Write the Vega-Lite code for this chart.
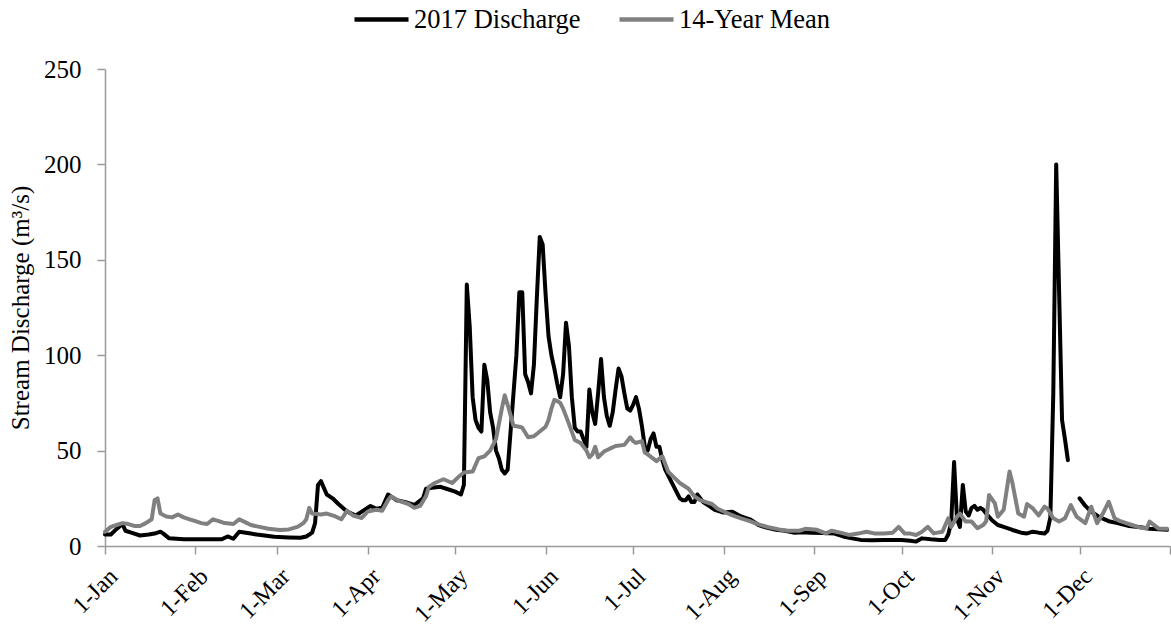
{
  "$schema": "https://vega.github.io/schema/vega-lite/v6.json",
  "width": 1065,
  "height": 477,
  "autosize": {"type": "none"},
  "padding": {"left": 105, "top": 69, "right": 1, "bottom": 81},
  "background": "white",
  "config": {"view": {"stroke": null}, "font": "Liberation Serif"},
  "datasets": {
    "discharge": [
      {"date": "2017-01-01", "series": "2017 Discharge", "value": 6},
      {"date": "2017-01-03", "series": "2017 Discharge", "value": 6},
      {"date": "2017-01-05", "series": "2017 Discharge", "value": 9},
      {"date": "2017-01-07", "series": "2017 Discharge", "value": 11.5},
      {"date": "2017-01-08", "series": "2017 Discharge", "value": 8},
      {"date": "2017-01-10", "series": "2017 Discharge", "value": 7},
      {"date": "2017-01-13", "series": "2017 Discharge", "value": 5.5},
      {"date": "2017-01-16", "series": "2017 Discharge", "value": 6},
      {"date": "2017-01-18", "series": "2017 Discharge", "value": 6.5},
      {"date": "2017-01-20", "series": "2017 Discharge", "value": 7.5},
      {"date": "2017-01-21", "series": "2017 Discharge", "value": 6.5},
      {"date": "2017-01-23", "series": "2017 Discharge", "value": 4},
      {"date": "2017-01-28", "series": "2017 Discharge", "value": 3.5},
      {"date": "2017-02-05", "series": "2017 Discharge", "value": 3.5},
      {"date": "2017-02-10", "series": "2017 Discharge", "value": 3.5},
      {"date": "2017-02-12", "series": "2017 Discharge", "value": 5},
      {"date": "2017-02-14", "series": "2017 Discharge", "value": 3.8},
      {"date": "2017-02-16", "series": "2017 Discharge", "value": 7.5},
      {"date": "2017-02-20", "series": "2017 Discharge", "value": 6.5},
      {"date": "2017-02-22", "series": "2017 Discharge", "value": 6},
      {"date": "2017-02-28", "series": "2017 Discharge", "value": 4.8},
      {"date": "2017-03-05", "series": "2017 Discharge", "value": 4.5},
      {"date": "2017-03-09", "series": "2017 Discharge", "value": 4.3},
      {"date": "2017-03-11", "series": "2017 Discharge", "value": 5},
      {"date": "2017-03-13", "series": "2017 Discharge", "value": 7},
      {"date": "2017-03-14", "series": "2017 Discharge", "value": 12},
      {"date": "2017-03-15", "series": "2017 Discharge", "value": 32},
      {"date": "2017-03-16", "series": "2017 Discharge", "value": 34},
      {"date": "2017-03-18", "series": "2017 Discharge", "value": 27},
      {"date": "2017-03-20", "series": "2017 Discharge", "value": 25},
      {"date": "2017-03-22", "series": "2017 Discharge", "value": 22},
      {"date": "2017-03-25", "series": "2017 Discharge", "value": 18},
      {"date": "2017-03-28", "series": "2017 Discharge", "value": 16},
      {"date": "2017-03-30", "series": "2017 Discharge", "value": 18},
      {"date": "2017-04-02", "series": "2017 Discharge", "value": 21},
      {"date": "2017-04-04", "series": "2017 Discharge", "value": 19.5},
      {"date": "2017-04-06", "series": "2017 Discharge", "value": 20},
      {"date": "2017-04-08", "series": "2017 Discharge", "value": 27},
      {"date": "2017-04-09", "series": "2017 Discharge", "value": 26},
      {"date": "2017-04-11", "series": "2017 Discharge", "value": 24},
      {"date": "2017-04-14", "series": "2017 Discharge", "value": 23},
      {"date": "2017-04-17", "series": "2017 Discharge", "value": 21.5},
      {"date": "2017-04-20", "series": "2017 Discharge", "value": 25},
      {"date": "2017-04-21", "series": "2017 Discharge", "value": 30},
      {"date": "2017-04-23", "series": "2017 Discharge", "value": 30.5},
      {"date": "2017-04-26", "series": "2017 Discharge", "value": 31},
      {"date": "2017-04-28", "series": "2017 Discharge", "value": 30},
      {"date": "2017-05-01", "series": "2017 Discharge", "value": 28.5},
      {"date": "2017-05-03", "series": "2017 Discharge", "value": 27},
      {"date": "2017-05-04", "series": "2017 Discharge", "value": 32},
      {"date": "2017-05-05", "series": "2017 Discharge", "value": 137},
      {"date": "2017-05-06", "series": "2017 Discharge", "value": 115},
      {"date": "2017-05-07", "series": "2017 Discharge", "value": 78},
      {"date": "2017-05-08", "series": "2017 Discharge", "value": 66},
      {"date": "2017-05-09", "series": "2017 Discharge", "value": 62},
      {"date": "2017-05-10", "series": "2017 Discharge", "value": 60},
      {"date": "2017-05-11", "series": "2017 Discharge", "value": 95},
      {"date": "2017-05-12", "series": "2017 Discharge", "value": 87},
      {"date": "2017-05-13", "series": "2017 Discharge", "value": 70},
      {"date": "2017-05-14", "series": "2017 Discharge", "value": 62},
      {"date": "2017-05-15", "series": "2017 Discharge", "value": 50},
      {"date": "2017-05-16", "series": "2017 Discharge", "value": 46},
      {"date": "2017-05-17", "series": "2017 Discharge", "value": 40},
      {"date": "2017-05-18", "series": "2017 Discharge", "value": 38},
      {"date": "2017-05-19", "series": "2017 Discharge", "value": 40},
      {"date": "2017-05-20", "series": "2017 Discharge", "value": 60},
      {"date": "2017-05-21", "series": "2017 Discharge", "value": 80},
      {"date": "2017-05-22", "series": "2017 Discharge", "value": 100},
      {"date": "2017-05-23", "series": "2017 Discharge", "value": 133},
      {"date": "2017-05-24", "series": "2017 Discharge", "value": 133},
      {"date": "2017-05-25", "series": "2017 Discharge", "value": 90},
      {"date": "2017-05-26", "series": "2017 Discharge", "value": 86},
      {"date": "2017-05-27", "series": "2017 Discharge", "value": 80},
      {"date": "2017-05-28", "series": "2017 Discharge", "value": 95},
      {"date": "2017-05-29", "series": "2017 Discharge", "value": 130},
      {"date": "2017-05-30", "series": "2017 Discharge", "value": 162},
      {"date": "2017-05-31", "series": "2017 Discharge", "value": 158},
      {"date": "2017-06-01", "series": "2017 Discharge", "value": 132},
      {"date": "2017-06-02", "series": "2017 Discharge", "value": 110},
      {"date": "2017-06-03", "series": "2017 Discharge", "value": 100},
      {"date": "2017-06-04", "series": "2017 Discharge", "value": 93},
      {"date": "2017-06-05", "series": "2017 Discharge", "value": 85},
      {"date": "2017-06-06", "series": "2017 Discharge", "value": 78},
      {"date": "2017-06-07", "series": "2017 Discharge", "value": 90},
      {"date": "2017-06-08", "series": "2017 Discharge", "value": 117},
      {"date": "2017-06-09", "series": "2017 Discharge", "value": 105},
      {"date": "2017-06-10", "series": "2017 Discharge", "value": 78},
      {"date": "2017-06-11", "series": "2017 Discharge", "value": 62},
      {"date": "2017-06-12", "series": "2017 Discharge", "value": 60},
      {"date": "2017-06-13", "series": "2017 Discharge", "value": 60},
      {"date": "2017-06-14", "series": "2017 Discharge", "value": 56},
      {"date": "2017-06-15", "series": "2017 Discharge", "value": 52},
      {"date": "2017-06-16", "series": "2017 Discharge", "value": 82},
      {"date": "2017-06-17", "series": "2017 Discharge", "value": 70},
      {"date": "2017-06-18", "series": "2017 Discharge", "value": 64},
      {"date": "2017-06-19", "series": "2017 Discharge", "value": 80},
      {"date": "2017-06-20", "series": "2017 Discharge", "value": 98},
      {"date": "2017-06-21", "series": "2017 Discharge", "value": 78},
      {"date": "2017-06-22", "series": "2017 Discharge", "value": 68},
      {"date": "2017-06-23", "series": "2017 Discharge", "value": 63},
      {"date": "2017-06-24", "series": "2017 Discharge", "value": 70},
      {"date": "2017-06-25", "series": "2017 Discharge", "value": 82},
      {"date": "2017-06-26", "series": "2017 Discharge", "value": 93},
      {"date": "2017-06-27", "series": "2017 Discharge", "value": 89},
      {"date": "2017-06-28", "series": "2017 Discharge", "value": 80},
      {"date": "2017-06-29", "series": "2017 Discharge", "value": 72},
      {"date": "2017-06-30", "series": "2017 Discharge", "value": 71},
      {"date": "2017-07-01", "series": "2017 Discharge", "value": 74},
      {"date": "2017-07-02", "series": "2017 Discharge", "value": 78},
      {"date": "2017-07-03", "series": "2017 Discharge", "value": 72},
      {"date": "2017-07-04", "series": "2017 Discharge", "value": 63},
      {"date": "2017-07-05", "series": "2017 Discharge", "value": 52},
      {"date": "2017-07-06", "series": "2017 Discharge", "value": 50},
      {"date": "2017-07-07", "series": "2017 Discharge", "value": 56},
      {"date": "2017-07-08", "series": "2017 Discharge", "value": 59},
      {"date": "2017-07-09", "series": "2017 Discharge", "value": 52},
      {"date": "2017-07-10", "series": "2017 Discharge", "value": 52},
      {"date": "2017-07-11", "series": "2017 Discharge", "value": 45},
      {"date": "2017-07-12", "series": "2017 Discharge", "value": 40},
      {"date": "2017-07-13", "series": "2017 Discharge", "value": 37},
      {"date": "2017-07-14", "series": "2017 Discharge", "value": 34},
      {"date": "2017-07-15", "series": "2017 Discharge", "value": 31},
      {"date": "2017-07-16", "series": "2017 Discharge", "value": 28},
      {"date": "2017-07-17", "series": "2017 Discharge", "value": 25},
      {"date": "2017-07-18", "series": "2017 Discharge", "value": 24},
      {"date": "2017-07-19", "series": "2017 Discharge", "value": 24},
      {"date": "2017-07-20", "series": "2017 Discharge", "value": 26},
      {"date": "2017-07-21", "series": "2017 Discharge", "value": 23},
      {"date": "2017-07-22", "series": "2017 Discharge", "value": 23},
      {"date": "2017-07-23", "series": "2017 Discharge", "value": 27},
      {"date": "2017-07-24", "series": "2017 Discharge", "value": 25},
      {"date": "2017-07-25", "series": "2017 Discharge", "value": 23},
      {"date": "2017-07-27", "series": "2017 Discharge", "value": 21},
      {"date": "2017-07-29", "series": "2017 Discharge", "value": 19},
      {"date": "2017-08-01", "series": "2017 Discharge", "value": 17.5},
      {"date": "2017-08-04", "series": "2017 Discharge", "value": 18},
      {"date": "2017-08-07", "series": "2017 Discharge", "value": 15.5},
      {"date": "2017-08-10", "series": "2017 Discharge", "value": 14},
      {"date": "2017-08-13", "series": "2017 Discharge", "value": 11},
      {"date": "2017-08-16", "series": "2017 Discharge", "value": 9.5},
      {"date": "2017-08-19", "series": "2017 Discharge", "value": 8.5},
      {"date": "2017-08-22", "series": "2017 Discharge", "value": 8},
      {"date": "2017-08-25", "series": "2017 Discharge", "value": 7},
      {"date": "2017-08-28", "series": "2017 Discharge", "value": 7.2},
      {"date": "2017-08-31", "series": "2017 Discharge", "value": 7},
      {"date": "2017-09-04", "series": "2017 Discharge", "value": 6.8},
      {"date": "2017-09-08", "series": "2017 Discharge", "value": 6.5},
      {"date": "2017-09-11", "series": "2017 Discharge", "value": 5},
      {"date": "2017-09-14", "series": "2017 Discharge", "value": 4},
      {"date": "2017-09-17", "series": "2017 Discharge", "value": 3.2},
      {"date": "2017-09-21", "series": "2017 Discharge", "value": 3},
      {"date": "2017-09-25", "series": "2017 Discharge", "value": 3.1},
      {"date": "2017-09-28", "series": "2017 Discharge", "value": 3.2},
      {"date": "2017-10-01", "series": "2017 Discharge", "value": 3.2},
      {"date": "2017-10-04", "series": "2017 Discharge", "value": 2.8},
      {"date": "2017-10-06", "series": "2017 Discharge", "value": 2.3},
      {"date": "2017-10-08", "series": "2017 Discharge", "value": 4},
      {"date": "2017-10-11", "series": "2017 Discharge", "value": 3.5},
      {"date": "2017-10-14", "series": "2017 Discharge", "value": 3.2},
      {"date": "2017-10-16", "series": "2017 Discharge", "value": 3.2},
      {"date": "2017-10-17", "series": "2017 Discharge", "value": 6},
      {"date": "2017-10-18", "series": "2017 Discharge", "value": 12},
      {"date": "2017-10-19", "series": "2017 Discharge", "value": 44},
      {"date": "2017-10-20", "series": "2017 Discharge", "value": 14},
      {"date": "2017-10-21", "series": "2017 Discharge", "value": 10},
      {"date": "2017-10-22", "series": "2017 Discharge", "value": 32},
      {"date": "2017-10-23", "series": "2017 Discharge", "value": 18},
      {"date": "2017-10-24", "series": "2017 Discharge", "value": 16},
      {"date": "2017-10-25", "series": "2017 Discharge", "value": 20},
      {"date": "2017-10-26", "series": "2017 Discharge", "value": 21},
      {"date": "2017-10-27", "series": "2017 Discharge", "value": 19},
      {"date": "2017-10-28", "series": "2017 Discharge", "value": 20},
      {"date": "2017-10-29", "series": "2017 Discharge", "value": 19},
      {"date": "2017-10-30", "series": "2017 Discharge", "value": 17},
      {"date": "2017-11-01", "series": "2017 Discharge", "value": 13.5},
      {"date": "2017-11-03", "series": "2017 Discharge", "value": 11},
      {"date": "2017-11-05", "series": "2017 Discharge", "value": 10},
      {"date": "2017-11-08", "series": "2017 Discharge", "value": 8.4},
      {"date": "2017-11-11", "series": "2017 Discharge", "value": 7},
      {"date": "2017-11-13", "series": "2017 Discharge", "value": 6.6},
      {"date": "2017-11-15", "series": "2017 Discharge", "value": 7.5},
      {"date": "2017-11-17", "series": "2017 Discharge", "value": 7},
      {"date": "2017-11-19", "series": "2017 Discharge", "value": 6.6},
      {"date": "2017-11-20", "series": "2017 Discharge", "value": 8},
      {"date": "2017-11-21", "series": "2017 Discharge", "value": 15},
      {"date": "2017-11-22", "series": "2017 Discharge", "value": 80},
      {"date": "2017-11-23", "series": "2017 Discharge", "value": 200},
      {"date": "2017-11-24", "series": "2017 Discharge", "value": 133},
      {"date": "2017-11-25", "series": "2017 Discharge", "value": 66},
      {"date": "2017-11-26", "series": "2017 Discharge", "value": 56},
      {"date": "2017-11-27", "series": "2017 Discharge", "value": 45},
      {"date": "2017-11-28", "series": "2017 Discharge", "value": null},
      {"date": "2017-12-01", "series": "2017 Discharge", "value": 25},
      {"date": "2017-12-03", "series": "2017 Discharge", "value": 21},
      {"date": "2017-12-05", "series": "2017 Discharge", "value": 18},
      {"date": "2017-12-08", "series": "2017 Discharge", "value": 15},
      {"date": "2017-12-11", "series": "2017 Discharge", "value": 13},
      {"date": "2017-12-14", "series": "2017 Discharge", "value": 12},
      {"date": "2017-12-18", "series": "2017 Discharge", "value": 10.5},
      {"date": "2017-12-22", "series": "2017 Discharge", "value": 9.8},
      {"date": "2017-12-25", "series": "2017 Discharge", "value": 9},
      {"date": "2017-12-28", "series": "2017 Discharge", "value": 8.8},
      {"date": "2017-12-31", "series": "2017 Discharge", "value": 8.5}
    ],
    "mean": [
      {"date": "2017-01-01", "series": "14-Year Mean", "value": 7.5},
      {"date": "2017-01-03", "series": "14-Year Mean", "value": 10},
      {"date": "2017-01-05", "series": "14-Year Mean", "value": 11},
      {"date": "2017-01-07", "series": "14-Year Mean", "value": 12},
      {"date": "2017-01-09", "series": "14-Year Mean", "value": 11.5},
      {"date": "2017-01-11", "series": "14-Year Mean", "value": 10.5},
      {"date": "2017-01-13", "series": "14-Year Mean", "value": 10.5},
      {"date": "2017-01-15", "series": "14-Year Mean", "value": 12},
      {"date": "2017-01-17", "series": "14-Year Mean", "value": 14},
      {"date": "2017-01-18", "series": "14-Year Mean", "value": 24},
      {"date": "2017-01-19", "series": "14-Year Mean", "value": 25},
      {"date": "2017-01-20", "series": "14-Year Mean", "value": 17},
      {"date": "2017-01-22", "series": "14-Year Mean", "value": 15.5},
      {"date": "2017-01-24", "series": "14-Year Mean", "value": 15},
      {"date": "2017-01-26", "series": "14-Year Mean", "value": 16.5},
      {"date": "2017-01-28", "series": "14-Year Mean", "value": 15},
      {"date": "2017-01-30", "series": "14-Year Mean", "value": 14},
      {"date": "2017-02-01", "series": "14-Year Mean", "value": 13},
      {"date": "2017-02-03", "series": "14-Year Mean", "value": 12},
      {"date": "2017-02-05", "series": "14-Year Mean", "value": 11.5},
      {"date": "2017-02-07", "series": "14-Year Mean", "value": 14},
      {"date": "2017-02-09", "series": "14-Year Mean", "value": 13},
      {"date": "2017-02-11", "series": "14-Year Mean", "value": 12},
      {"date": "2017-02-14", "series": "14-Year Mean", "value": 11.5},
      {"date": "2017-02-16", "series": "14-Year Mean", "value": 14},
      {"date": "2017-02-18", "series": "14-Year Mean", "value": 12.5},
      {"date": "2017-02-20", "series": "14-Year Mean", "value": 11},
      {"date": "2017-02-23", "series": "14-Year Mean", "value": 10},
      {"date": "2017-02-26", "series": "14-Year Mean", "value": 9},
      {"date": "2017-03-02", "series": "14-Year Mean", "value": 8.4},
      {"date": "2017-03-05", "series": "14-Year Mean", "value": 8.7},
      {"date": "2017-03-08", "series": "14-Year Mean", "value": 10},
      {"date": "2017-03-10", "series": "14-Year Mean", "value": 12},
      {"date": "2017-03-11", "series": "14-Year Mean", "value": 14},
      {"date": "2017-03-12", "series": "14-Year Mean", "value": 20},
      {"date": "2017-03-13", "series": "14-Year Mean", "value": 17},
      {"date": "2017-03-16", "series": "14-Year Mean", "value": 16.5},
      {"date": "2017-03-18", "series": "14-Year Mean", "value": 17},
      {"date": "2017-03-21", "series": "14-Year Mean", "value": 15.5},
      {"date": "2017-03-23", "series": "14-Year Mean", "value": 14},
      {"date": "2017-03-25", "series": "14-Year Mean", "value": 18.5},
      {"date": "2017-03-27", "series": "14-Year Mean", "value": 16},
      {"date": "2017-03-30", "series": "14-Year Mean", "value": 14.7},
      {"date": "2017-04-01", "series": "14-Year Mean", "value": 18},
      {"date": "2017-04-04", "series": "14-Year Mean", "value": 19},
      {"date": "2017-04-06", "series": "14-Year Mean", "value": 18.5},
      {"date": "2017-04-08", "series": "14-Year Mean", "value": 24},
      {"date": "2017-04-09", "series": "14-Year Mean", "value": 26},
      {"date": "2017-04-12", "series": "14-Year Mean", "value": 23.5},
      {"date": "2017-04-15", "series": "14-Year Mean", "value": 22},
      {"date": "2017-04-17", "series": "14-Year Mean", "value": 20},
      {"date": "2017-04-19", "series": "14-Year Mean", "value": 21},
      {"date": "2017-04-21", "series": "14-Year Mean", "value": 26},
      {"date": "2017-04-22", "series": "14-Year Mean", "value": 31},
      {"date": "2017-04-24", "series": "14-Year Mean", "value": 33},
      {"date": "2017-04-27", "series": "14-Year Mean", "value": 35},
      {"date": "2017-04-30", "series": "14-Year Mean", "value": 33},
      {"date": "2017-05-02", "series": "14-Year Mean", "value": 36},
      {"date": "2017-05-04", "series": "14-Year Mean", "value": 38.5},
      {"date": "2017-05-07", "series": "14-Year Mean", "value": 39},
      {"date": "2017-05-09", "series": "14-Year Mean", "value": 46},
      {"date": "2017-05-11", "series": "14-Year Mean", "value": 47},
      {"date": "2017-05-13", "series": "14-Year Mean", "value": 50},
      {"date": "2017-05-15", "series": "14-Year Mean", "value": 56},
      {"date": "2017-05-17", "series": "14-Year Mean", "value": 72},
      {"date": "2017-05-18", "series": "14-Year Mean", "value": 79},
      {"date": "2017-05-19", "series": "14-Year Mean", "value": 74},
      {"date": "2017-05-21", "series": "14-Year Mean", "value": 63},
      {"date": "2017-05-23", "series": "14-Year Mean", "value": 62.5},
      {"date": "2017-05-24", "series": "14-Year Mean", "value": 62},
      {"date": "2017-05-26", "series": "14-Year Mean", "value": 57},
      {"date": "2017-05-28", "series": "14-Year Mean", "value": 57.5},
      {"date": "2017-05-30", "series": "14-Year Mean", "value": 60},
      {"date": "2017-06-01", "series": "14-Year Mean", "value": 62.5},
      {"date": "2017-06-02", "series": "14-Year Mean", "value": 66},
      {"date": "2017-06-03", "series": "14-Year Mean", "value": 72},
      {"date": "2017-06-04", "series": "14-Year Mean", "value": 76.6},
      {"date": "2017-06-05", "series": "14-Year Mean", "value": 76},
      {"date": "2017-06-06", "series": "14-Year Mean", "value": 75},
      {"date": "2017-06-07", "series": "14-Year Mean", "value": 72},
      {"date": "2017-06-09", "series": "14-Year Mean", "value": 64},
      {"date": "2017-06-11", "series": "14-Year Mean", "value": 55.6},
      {"date": "2017-06-13", "series": "14-Year Mean", "value": 54},
      {"date": "2017-06-15", "series": "14-Year Mean", "value": 50},
      {"date": "2017-06-16", "series": "14-Year Mean", "value": 46.5},
      {"date": "2017-06-17", "series": "14-Year Mean", "value": 48},
      {"date": "2017-06-18", "series": "14-Year Mean", "value": 52},
      {"date": "2017-06-19", "series": "14-Year Mean", "value": 46.5},
      {"date": "2017-06-21", "series": "14-Year Mean", "value": 49.5},
      {"date": "2017-06-23", "series": "14-Year Mean", "value": 51},
      {"date": "2017-06-25", "series": "14-Year Mean", "value": 52.4},
      {"date": "2017-06-28", "series": "14-Year Mean", "value": 53},
      {"date": "2017-06-30", "series": "14-Year Mean", "value": 57},
      {"date": "2017-07-01", "series": "14-Year Mean", "value": 55},
      {"date": "2017-07-02", "series": "14-Year Mean", "value": 54},
      {"date": "2017-07-04", "series": "14-Year Mean", "value": 55},
      {"date": "2017-07-05", "series": "14-Year Mean", "value": 49},
      {"date": "2017-07-06", "series": "14-Year Mean", "value": 48},
      {"date": "2017-07-09", "series": "14-Year Mean", "value": 44.5},
      {"date": "2017-07-11", "series": "14-Year Mean", "value": 47},
      {"date": "2017-07-13", "series": "14-Year Mean", "value": 39},
      {"date": "2017-07-15", "series": "14-Year Mean", "value": 36},
      {"date": "2017-07-17", "series": "14-Year Mean", "value": 33},
      {"date": "2017-07-20", "series": "14-Year Mean", "value": 30},
      {"date": "2017-07-22", "series": "14-Year Mean", "value": 26},
      {"date": "2017-07-24", "series": "14-Year Mean", "value": 24},
      {"date": "2017-07-26", "series": "14-Year Mean", "value": 23},
      {"date": "2017-07-28", "series": "14-Year Mean", "value": 22},
      {"date": "2017-07-30", "series": "14-Year Mean", "value": 19.5},
      {"date": "2017-08-02", "series": "14-Year Mean", "value": 17.4},
      {"date": "2017-08-05", "series": "14-Year Mean", "value": 15.5},
      {"date": "2017-08-07", "series": "14-Year Mean", "value": 14.5},
      {"date": "2017-08-10", "series": "14-Year Mean", "value": 13},
      {"date": "2017-08-13", "series": "14-Year Mean", "value": 11.3},
      {"date": "2017-08-16", "series": "14-Year Mean", "value": 10},
      {"date": "2017-08-20", "series": "14-Year Mean", "value": 8.7},
      {"date": "2017-08-23", "series": "14-Year Mean", "value": 8},
      {"date": "2017-08-27", "series": "14-Year Mean", "value": 8},
      {"date": "2017-08-29", "series": "14-Year Mean", "value": 9},
      {"date": "2017-09-02", "series": "14-Year Mean", "value": 8.5},
      {"date": "2017-09-05", "series": "14-Year Mean", "value": 6.6},
      {"date": "2017-09-07", "series": "14-Year Mean", "value": 8},
      {"date": "2017-09-10", "series": "14-Year Mean", "value": 7},
      {"date": "2017-09-13", "series": "14-Year Mean", "value": 5.8},
      {"date": "2017-09-16", "series": "14-Year Mean", "value": 6.5},
      {"date": "2017-09-19", "series": "14-Year Mean", "value": 7.5},
      {"date": "2017-09-22", "series": "14-Year Mean", "value": 6.5},
      {"date": "2017-09-25", "series": "14-Year Mean", "value": 6.6},
      {"date": "2017-09-28", "series": "14-Year Mean", "value": 7},
      {"date": "2017-09-30", "series": "14-Year Mean", "value": 10},
      {"date": "2017-10-02", "series": "14-Year Mean", "value": 6.6},
      {"date": "2017-10-04", "series": "14-Year Mean", "value": 6.5},
      {"date": "2017-10-06", "series": "14-Year Mean", "value": 5.8},
      {"date": "2017-10-08", "series": "14-Year Mean", "value": 7.5},
      {"date": "2017-10-10", "series": "14-Year Mean", "value": 10},
      {"date": "2017-10-12", "series": "14-Year Mean", "value": 6.6},
      {"date": "2017-10-15", "series": "14-Year Mean", "value": 7.5},
      {"date": "2017-10-17", "series": "14-Year Mean", "value": 14.5},
      {"date": "2017-10-18", "series": "14-Year Mean", "value": 10},
      {"date": "2017-10-20", "series": "14-Year Mean", "value": 15.4},
      {"date": "2017-10-21", "series": "14-Year Mean", "value": 17},
      {"date": "2017-10-23", "series": "14-Year Mean", "value": 12.8},
      {"date": "2017-10-25", "series": "14-Year Mean", "value": 12.8},
      {"date": "2017-10-27", "series": "14-Year Mean", "value": 9.3},
      {"date": "2017-10-29", "series": "14-Year Mean", "value": 11},
      {"date": "2017-10-30", "series": "14-Year Mean", "value": 13},
      {"date": "2017-10-31", "series": "14-Year Mean", "value": 26.7},
      {"date": "2017-11-02", "series": "14-Year Mean", "value": 22.3},
      {"date": "2017-11-03", "series": "14-Year Mean", "value": 15.4},
      {"date": "2017-11-05", "series": "14-Year Mean", "value": 19},
      {"date": "2017-11-07", "series": "14-Year Mean", "value": 39},
      {"date": "2017-11-08", "series": "14-Year Mean", "value": 33},
      {"date": "2017-11-10", "series": "14-Year Mean", "value": 17},
      {"date": "2017-11-12", "series": "14-Year Mean", "value": 15.4},
      {"date": "2017-11-13", "series": "14-Year Mean", "value": 22},
      {"date": "2017-11-15", "series": "14-Year Mean", "value": 19.7},
      {"date": "2017-11-17", "series": "14-Year Mean", "value": 16},
      {"date": "2017-11-19", "series": "14-Year Mean", "value": 20.6},
      {"date": "2017-11-20", "series": "14-Year Mean", "value": 19.7},
      {"date": "2017-11-22", "series": "14-Year Mean", "value": 14.5},
      {"date": "2017-11-24", "series": "14-Year Mean", "value": 12.8},
      {"date": "2017-11-26", "series": "14-Year Mean", "value": 14.5},
      {"date": "2017-11-28", "series": "14-Year Mean", "value": 21.4},
      {"date": "2017-11-30", "series": "14-Year Mean", "value": 15.4},
      {"date": "2017-12-03", "series": "14-Year Mean", "value": 12},
      {"date": "2017-12-05", "series": "14-Year Mean", "value": 20.6},
      {"date": "2017-12-07", "series": "14-Year Mean", "value": 12},
      {"date": "2017-12-09", "series": "14-Year Mean", "value": 17},
      {"date": "2017-12-11", "series": "14-Year Mean", "value": 23.2},
      {"date": "2017-12-13", "series": "14-Year Mean", "value": 14.5},
      {"date": "2017-12-15", "series": "14-Year Mean", "value": 13},
      {"date": "2017-12-17", "series": "14-Year Mean", "value": 12},
      {"date": "2017-12-19", "series": "14-Year Mean", "value": 11},
      {"date": "2017-12-21", "series": "14-Year Mean", "value": 10},
      {"date": "2017-12-24", "series": "14-Year Mean", "value": 9.2},
      {"date": "2017-12-25", "series": "14-Year Mean", "value": 12.8},
      {"date": "2017-12-28", "series": "14-Year Mean", "value": 9.2},
      {"date": "2017-12-31", "series": "14-Year Mean", "value": 9}
    ]
  },
  "encoding": {
    "x": {
      "field": "date",
      "type": "temporal",
      "scale": {"type": "utc", "domain": [1483228800000, 1514764800000]},
      "axis": {
        "title": null,
        "grid": false,
        "values": [1483228800000, 1485907200000, 1488326400000, 1491004800000, 1493596800000, 1496275200000, 1498867200000, 1501545600000, 1504224000000, 1506816000000, 1509494400000, 1512086400000, 1514764800000],
        "labelExpr": "datum.value >= 1514764800000 ? '' : utcFormat(datum.value, '%-d-%b')",
        "labelAngle": -45,
        "labelFont": "Liberation Serif",
        "labelFontSize": 24,
        "labelColor": "#000000",
        "labelPadding": 10,
        "labelDx": 2,
        "labelOverlap": false,
        "labelFlush": false,
        "domainColor": "#9a9a9a",
        "domainWidth": 1.5,
        "tickColor": "#9a9a9a",
        "tickWidth": 1.5,
        "tickSize": 8
      }
    },
    "y": {
      "field": "value",
      "type": "quantitative",
      "scale": {"domain": [0, 250], "nice": false, "zero": true},
      "axis": {
        "title": "Stream Discharge (m³/s)",
        "titleFont": "Liberation Serif",
        "titleFontSize": 25,
        "titleFontWeight": "normal",
        "titleColor": "#000000",
        "titlePadding": 10,
        "grid": false,
        "values": [0, 50, 100, 150, 200, 250],
        "labelFont": "Liberation Serif",
        "labelFontSize": 25,
        "labelColor": "#000000",
        "labelPadding": 16,
        "domainColor": "#9a9a9a",
        "domainWidth": 1.5,
        "tickColor": "#9a9a9a",
        "tickWidth": 1.5,
        "tickSize": 8
      }
    },
    "color": {
      "field": "series",
      "type": "nominal",
      "scale": {"domain": ["2017 Discharge", "14-Year Mean"], "range": ["#000000", "#808080"]},
      "legend": {
        "title": null,
        "orient": "none",
        "legendX": 247,
        "legendY": -79,
        "direction": "horizontal",
        "symbolType": "stroke",
        "symbolSize": 2916,
        "symbolStrokeWidth": 4.5,
        "labelFont": "Liberation Serif",
        "labelFontSize": 26.5,
        "labelColor": "#000000",
        "labelOffset": 3,
        "labelLimit": 0,
        "columnPadding": 29
      }
    }
  },
  "layer": [
    {
      "data": {"name": "discharge"},
      "mark": {"type": "line", "strokeWidth": 4, "strokeJoin": "round", "strokeCap": "round", "invalid": "break-paths-show-domains"}
    },
    {
      "data": {"name": "mean"},
      "mark": {"type": "line", "strokeWidth": 4, "strokeJoin": "round", "strokeCap": "round"}
    }
  ]
}
